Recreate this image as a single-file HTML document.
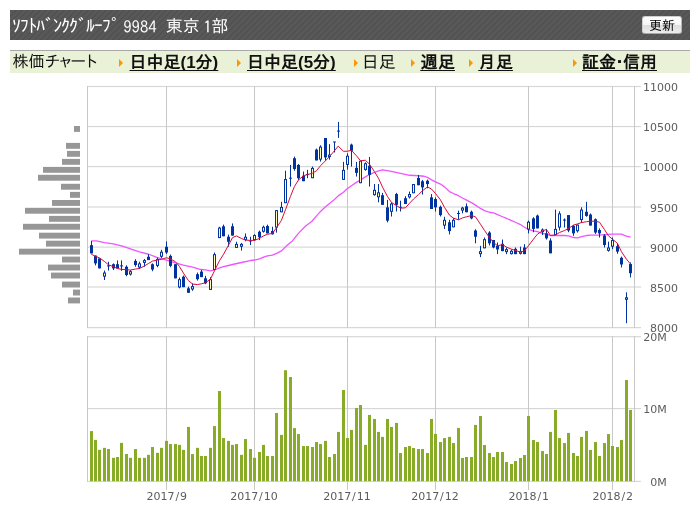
<!DOCTYPE html>
<html lang="ja">
<head>
<meta charset="utf-8">
<title>ｿﾌﾄﾊﾞﾝｸｸﾞﾙｰﾌﾟ 9984 株価チャート</title>
<style>
html,body{margin:0;padding:0;background:#fff;}
body{width:698px;height:518px;position:relative;overflow:hidden;font-family:"Liberation Sans","IPAGothic","Noto Sans CJK JP",sans-serif;}
.hd{position:absolute;left:10px;top:10px;width:680px;height:30px;background-color:#585858;
 background-image:repeating-linear-gradient(135deg,rgba(0,0,0,0.08) 0,rgba(0,0,0,0.08) 1px,rgba(0,0,0,0) 1.2px,rgba(0,0,0,0) 4.24px);}
.hd .t{position:absolute;left:0;top:7px;height:18px;line-height:18px;font-size:16px;color:#fff;white-space:pre;font-family:"IPAGothic","Noto Sans CJK JP",sans-serif;}
.hd .t span{position:absolute;top:0;height:18px;line-height:18px;white-space:pre;}
.btn{position:absolute;left:632px;top:6px;width:40px;height:18px;box-sizing:border-box;border:1px solid #cfcfcf;border-bottom-color:#a8a8a8;border-right-color:#b8b8b8;border-radius:3px;
 background:linear-gradient(#ffffff 0%,#f6f6f6 48%,#dedede 52%,#ececec 100%);font-size:13px;line-height:17.6px;text-align:center;color:#000;
 font-family:"Liberation Sans","IPAGothic","Noto Sans CJK JP",sans-serif;}
.nav{position:absolute;left:10px;top:50px;width:680px;height:22px;border-top:1px solid #a8a8a8;background:#e9f1d6;font-size:16px;color:#222;}
.nav span,.nav a{position:absolute;top:2px;height:18px;line-height:18px;white-space:nowrap;color:#111;}
.nav a{font-weight:bold;font-size:17px;text-decoration:underline;text-decoration-thickness:1px;text-underline-offset:1.5px;text-decoration-skip-ink:none;top:3px;}
.nav i{position:absolute;top:7.5px;width:0;height:0;border-left:4.5px solid #ff9500;border-top:4px solid transparent;border-bottom:4px solid transparent;}
.nav u.s{letter-spacing:.4px;text-decoration:inherit;}
.nav span u.s{text-decoration:none;letter-spacing:2px;}
.nav b.kn{font-weight:normal;letter-spacing:-3.1px;}
.nav b.dot{font-weight:bold;margin:0 -5px;}
.hd .t .k{left:2px;top:-1px;font-size:18px;letter-spacing:-1px;}
.hd .t .n{font-size:16.6px;top:1px;}
.hd .t .j{font-size:17px;}
.chart{position:absolute;left:0;top:0;}
</style>
</head>
<body>
<div class="hd"><div class="t"><span class="k">ｿﾌﾄﾊﾞﾝｸｸﾞﾙｰﾌﾟ</span><span class="n" style="left:105px"> 9984 </span><span class="j" style="left:155.7px">東京</span><span class="n" style="left:185.2px"> 1</span><span class="j" style="left:201.4px">部</span></div><div class="btn">更新</div></div>
<div class="nav">
<span style="left:2.5px">株価<b class="kn">チャート</b></span>
<i style="left:109px"></i><a style="left:119.5px">日中足(1分)</a>
<i style="left:227px"></i><a style="left:237px">日中足(5分)</a>
<i style="left:344px"></i><span style="left:351.7px;font-size:17px;top:3px">日足</span>
<i style="left:401px"></i><a style="left:410.5px"><u class="s">週</u>足</a>
<i style="left:459px"></i><a style="left:468.5px"><u class="s">月</u>足</a>
<i style="left:563px"></i><a style="left:572px">証金<b class="dot">・</b>信用</a>
</div>
<svg class="chart" width="698" height="518" viewBox="0 0 698 518">
<g fill="#d6d6d6">
<rect x="87" y="85.92" width="554" height="1.15"/>
<rect x="87" y="125.97" width="554" height="1.15"/>
<rect x="87" y="166.03" width="554" height="1.15"/>
<rect x="87" y="206.43" width="554" height="1.15"/>
<rect x="87" y="246.53" width="554" height="1.15"/>
<rect x="87" y="286.43" width="554" height="1.15"/>
<rect x="87" y="327.07" width="554" height="1.15"/>
<rect x="87" y="336.12" width="554" height="1.15"/>
<rect x="87" y="408.03" width="554" height="1.15"/>
<rect x="87" y="480.82" width="554" height="1.15"/>
</g>
<g fill="#c8c8c8">
<rect x="87" y="86" width="1" height="242"/>
<rect x="634" y="86" width="1" height="242"/>
<rect x="166" y="86" width="1" height="242"/>
<rect x="254" y="86" width="1" height="242"/>
<rect x="347" y="86" width="1" height="242"/>
<rect x="435" y="86" width="1" height="242"/>
<rect x="528" y="86" width="1" height="242"/>
<rect x="612" y="86" width="1" height="242"/>
<rect x="87" y="336.2" width="1" height="145.8"/>
<rect x="634" y="336.2" width="1" height="145.8"/>
<rect x="166" y="336.2" width="1" height="153.8"/>
<rect x="254" y="336.2" width="1" height="153.8"/>
<rect x="347" y="336.2" width="1" height="153.8"/>
<rect x="435" y="336.2" width="1" height="153.8"/>
<rect x="528" y="336.2" width="1" height="153.8"/>
<rect x="612" y="336.2" width="1" height="153.8"/>
</g>
<g fill="#979797">
<rect x="74" y="126" width="6" height="5.9"/>
<rect x="66" y="142.9" width="14" height="5.9"/>
<rect x="67" y="150.9" width="13" height="5.9"/>
<rect x="62" y="158.9" width="18" height="5.9"/>
<rect x="43" y="166.9" width="37" height="5.9"/>
<rect x="38" y="174.8" width="42" height="5.9"/>
<rect x="61" y="183.8" width="19" height="5.9"/>
<rect x="70" y="191.9" width="10" height="5.9"/>
<rect x="52" y="200" width="28" height="5.9"/>
<rect x="25" y="207.8" width="55" height="5.9"/>
<rect x="49" y="215.9" width="31" height="5.9"/>
<rect x="23" y="223.8" width="57" height="5.9"/>
<rect x="39" y="232.7" width="41" height="5.9"/>
<rect x="46" y="240.7" width="34" height="5.9"/>
<rect x="19" y="248.7" width="61" height="5.9"/>
<rect x="62" y="256.6" width="18" height="5.9"/>
<rect x="48" y="264.6" width="32" height="5.9"/>
<rect x="51" y="272.6" width="29" height="5.9"/>
<rect x="62" y="281.6" width="18" height="5.9"/>
<rect x="73" y="289.6" width="7" height="5.9"/>
<rect x="68" y="297.5" width="12" height="5.9"/>
</g>
<g fill="#88ab28">
<rect x="90" y="431.08" width="3" height="50.12"/>
<rect x="94" y="439.89" width="3" height="41.31"/>
<rect x="98" y="449.86" width="3" height="31.34"/>
<rect x="103" y="447.86" width="3" height="33.34"/>
<rect x="107" y="449.03" width="3" height="32.17"/>
<rect x="112" y="457.83" width="3" height="23.37"/>
<rect x="116" y="457" width="3" height="24.2"/>
<rect x="120" y="442.88" width="3" height="38.32"/>
<rect x="125" y="454.01" width="3" height="27.19"/>
<rect x="129" y="457.83" width="3" height="23.37"/>
<rect x="134" y="449.03" width="3" height="32.17"/>
<rect x="138" y="457.83" width="3" height="23.37"/>
<rect x="143" y="457.83" width="3" height="23.37"/>
<rect x="147" y="454.84" width="3" height="26.36"/>
<rect x="151" y="447.03" width="3" height="34.17"/>
<rect x="156" y="452.85" width="3" height="28.35"/>
<rect x="160" y="447.86" width="3" height="33.34"/>
<rect x="165" y="440.88" width="3" height="40.32"/>
<rect x="169" y="444.04" width="3" height="37.16"/>
<rect x="174" y="444.04" width="3" height="37.16"/>
<rect x="178" y="444.87" width="3" height="36.33"/>
<rect x="182" y="449.86" width="3" height="31.34"/>
<rect x="187" y="426.92" width="3" height="54.28"/>
<rect x="191" y="454.01" width="3" height="27.19"/>
<rect x="196" y="447.86" width="3" height="33.34"/>
<rect x="200" y="456.01" width="3" height="25.19"/>
<rect x="204" y="456.01" width="3" height="25.19"/>
<rect x="209" y="447.86" width="3" height="33.34"/>
<rect x="213" y="426.09" width="3" height="55.11"/>
<rect x="218" y="391" width="3" height="90.2"/>
<rect x="222" y="438.06" width="3" height="43.14"/>
<rect x="227" y="440.88" width="3" height="40.32"/>
<rect x="231" y="444.87" width="3" height="36.33"/>
<rect x="235" y="444.04" width="3" height="37.16"/>
<rect x="240" y="454.84" width="3" height="26.36"/>
<rect x="244" y="439.05" width="3" height="42.15"/>
<rect x="249" y="449.03" width="3" height="32.17"/>
<rect x="253" y="457.83" width="3" height="23.37"/>
<rect x="258" y="452.02" width="3" height="29.18"/>
<rect x="262" y="444.87" width="3" height="36.33"/>
<rect x="266" y="456.01" width="3" height="25.19"/>
<rect x="271" y="456.01" width="3" height="25.19"/>
<rect x="275" y="412.96" width="3" height="68.24"/>
<rect x="280" y="434.9" width="3" height="46.3"/>
<rect x="284" y="370.22" width="3" height="110.98"/>
<rect x="289" y="377.04" width="3" height="104.16"/>
<rect x="293" y="428.09" width="3" height="53.11"/>
<rect x="297" y="434.07" width="3" height="47.13"/>
<rect x="302" y="446.03" width="3" height="35.17"/>
<rect x="306" y="446.03" width="3" height="35.17"/>
<rect x="311" y="447.03" width="3" height="34.17"/>
<rect x="315" y="442.05" width="3" height="39.15"/>
<rect x="319" y="444.04" width="3" height="37.16"/>
<rect x="324" y="440.88" width="3" height="40.32"/>
<rect x="328" y="457" width="3" height="24.2"/>
<rect x="333" y="454.01" width="3" height="27.19"/>
<rect x="337" y="431.91" width="3" height="49.29"/>
<rect x="342" y="390" width="3" height="91.2"/>
<rect x="346" y="438.06" width="3" height="43.14"/>
<rect x="350" y="429.91" width="3" height="51.29"/>
<rect x="355" y="407.98" width="3" height="73.22"/>
<rect x="359" y="404.99" width="3" height="76.21"/>
<rect x="364" y="444.87" width="3" height="36.33"/>
<rect x="368" y="414.96" width="3" height="66.24"/>
<rect x="373" y="418.95" width="3" height="62.25"/>
<rect x="377" y="431.91" width="3" height="49.29"/>
<rect x="381" y="436.89" width="3" height="44.31"/>
<rect x="386" y="418.95" width="3" height="62.25"/>
<rect x="390" y="426.92" width="3" height="54.28"/>
<rect x="395" y="422.93" width="3" height="58.27"/>
<rect x="399" y="453.01" width="3" height="28.19"/>
<rect x="404" y="447.03" width="3" height="34.17"/>
<rect x="408" y="446.03" width="3" height="35.17"/>
<rect x="412" y="448.03" width="3" height="33.17"/>
<rect x="417" y="449.03" width="3" height="32.17"/>
<rect x="421" y="449.03" width="3" height="32.17"/>
<rect x="426" y="453.01" width="3" height="28.19"/>
<rect x="430" y="418.95" width="3" height="62.25"/>
<rect x="434" y="433.9" width="3" height="47.3"/>
<rect x="439" y="442.05" width="3" height="39.15"/>
<rect x="443" y="438.06" width="3" height="43.14"/>
<rect x="448" y="436.89" width="3" height="44.31"/>
<rect x="452" y="443.04" width="3" height="38.16"/>
<rect x="457" y="427.92" width="3" height="53.28"/>
<rect x="461" y="458" width="3" height="23.2"/>
<rect x="465" y="457" width="3" height="24.2"/>
<rect x="470" y="457" width="3" height="24.2"/>
<rect x="474" y="424.93" width="3" height="56.27"/>
<rect x="479" y="415.95" width="3" height="65.25"/>
<rect x="483" y="445.04" width="3" height="36.16"/>
<rect x="488" y="453.01" width="3" height="28.19"/>
<rect x="492" y="457" width="3" height="24.2"/>
<rect x="496" y="452.02" width="3" height="29.18"/>
<rect x="501" y="452.02" width="3" height="29.18"/>
<rect x="505" y="461.99" width="3" height="19.21"/>
<rect x="510" y="463.98" width="3" height="17.22"/>
<rect x="514" y="460.99" width="3" height="20.21"/>
<rect x="519" y="458" width="3" height="23.2"/>
<rect x="523" y="455.01" width="3" height="26.19"/>
<rect x="527" y="415.95" width="3" height="65.25"/>
<rect x="532" y="440.05" width="3" height="41.15"/>
<rect x="536" y="442.05" width="3" height="39.15"/>
<rect x="541" y="451.02" width="3" height="30.18"/>
<rect x="545" y="454.01" width="3" height="27.19"/>
<rect x="549" y="431.91" width="3" height="49.29"/>
<rect x="554" y="409.97" width="3" height="71.23"/>
<rect x="558" y="438.06" width="3" height="43.14"/>
<rect x="563" y="443.04" width="3" height="38.16"/>
<rect x="567" y="432.91" width="3" height="48.29"/>
<rect x="572" y="453.01" width="3" height="28.19"/>
<rect x="576" y="456.01" width="3" height="25.19"/>
<rect x="580" y="436.89" width="3" height="44.31"/>
<rect x="585" y="430.91" width="3" height="50.29"/>
<rect x="589" y="450.02" width="3" height="31.18"/>
<rect x="594" y="442.05" width="3" height="39.15"/>
<rect x="598" y="456.01" width="3" height="25.19"/>
<rect x="603" y="443.04" width="3" height="38.16"/>
<rect x="607" y="434.07" width="3" height="47.13"/>
<rect x="611" y="446.03" width="3" height="35.17"/>
<rect x="616" y="447.03" width="3" height="34.17"/>
<rect x="620" y="440.05" width="3" height="41.15"/>
<rect x="625" y="380.03" width="3" height="101.17"/>
<rect x="629" y="409.97" width="3" height="71.23"/>
</g>
<path d="M91.31 240.96 L96.46 240.96 L104.44 242.62 L113.42 243.95 L121.56 245.94 L130.53 248.93 L139.51 251.76 L148.65 254.25 L157.46 257.58 L166.43 260.07 L175.4 262.89 L183.38 265.05 L192.52 267.21 L199.99 269.32 L201.48 269.48 L205.47 269.98 L210.46 270.81 L214.45 269.98 L219.43 267.82 L223.59 266.66 L228.57 265.5 L232.56 264.5 L241.37 262.5 L250.34 260.51 L254.5 260.01 L259.48 258.85 L263.47 257.19 L267.46 255.86 L272.45 255.03 L276.6 253.36 L281.42 250.87 L287.4 245.05 L292.39 240.9 L299.04 232.59 L305.68 225.94 L312 221.29 L316.53 215.92 L320.52 211.43 L325.51 206.78 L329.5 203.46 L334.48 199.47 L338.47 195.64 L343.46 192.32 L347.44 188.5 L351.43 185.67 L356.42 182.35 L360.57 179.86 L365.39 176.87 L369.38 174.54 L374.37 172.38 L378.49 170.94 L382.65 169.94 L391.46 171.27 L400.6 173.27 L409.57 175.26 L418.54 175.76 L424.19 176.26 L427.52 177.42 L431.51 179.91 L435.5 181.91 L440.48 184.07 L444.47 186.89 L449.46 191.55 L453.44 193.54 L458.43 195.7 L462.49 197.97 L466.65 200.13 L471.47 202.62 L475.46 205.11 L480.44 208.44 L484.6 210.6 L489.42 212.26 L493.57 212.92 L497.56 214.58 L502.54 216.74 L506.53 218.41 L511.52 220.57 L515.51 222.23 L520.49 224.56 L524.48 227.21 L528.64 229.54 L533.46 230.87 L537.44 231.7 L542.43 233.36 L546.42 234.19 L550.47 235.52 L555.46 235.52 L564.43 235.52 L568.58 235.86 L573.57 237.52 L577.56 237.85 L581.55 236.69 L586.53 235.52 L590.52 235.19 L595.51 235.19 L599.5 235.19 L604.48 234.53 L612.46 234.19 L617.44 234.19 L621.43 234.19 L625.59 235.86 L630.57 237.19" fill="none" stroke="#ee55ff" stroke-width="1.3" stroke-linejoin="round"/>
<g fill="#0033a0">
<rect x="91" y="240.96" width="1" height="12.46"/>
<rect x="90" y="245.11" width="3" height="8.31"/>
<rect x="95" y="255.58" width="1" height="9.81"/>
<rect x="94" y="255.58" width="3" height="7.81"/>
<rect x="99" y="258.41" width="1" height="9.97"/>
<rect x="98" y="258.41" width="3" height="9.97"/>
<rect x="104" y="270.54" width="1" height="9.47"/>
<rect x="103" y="272.53" width="3" height="4.15"/>
<rect x="104" y="273.53" width="1" height="2.15" fill="#ffffc0"/>
<rect x="108" y="261.73" width="1" height="8.81"/>
<rect x="107" y="265.39" width="3" height="1"/>
<rect x="113" y="263.39" width="1" height="6.65"/>
<rect x="112" y="264.22" width="3" height="4.15"/>
<rect x="117" y="260.4" width="1" height="7.98"/>
<rect x="116" y="264.22" width="3" height="4.15"/>
<rect x="121" y="260.4" width="1" height="10.47"/>
<rect x="120" y="265.39" width="3" height="1"/>
<rect x="126" y="265.39" width="1" height="10.8"/>
<rect x="125" y="266.72" width="3" height="8.31"/>
<rect x="130" y="270.04" width="1" height="5.48"/>
<rect x="129" y="271.2" width="3" height="3.32"/>
<rect x="130" y="272.2" width="1" height="1.32" fill="#ffffc0"/>
<rect x="135" y="259.24" width="1" height="7.48"/>
<rect x="134" y="260.9" width="3" height="4.15"/>
<rect x="139" y="261.73" width="1" height="7.15"/>
<rect x="138" y="263.39" width="3" height="4.15"/>
<rect x="139" y="264.39" width="1" height="2.15" fill="#ffffc0"/>
<rect x="144" y="258.91" width="1" height="7.81"/>
<rect x="143" y="260.07" width="3" height="2.83"/>
<rect x="144" y="261.07" width="1" height="0.83" fill="#ffffc0"/>
<rect x="148" y="254.25" width="1" height="5.82"/>
<rect x="147" y="256.74" width="3" height="3.32"/>
<rect x="152" y="263.39" width="1" height="7.81"/>
<rect x="151" y="264.22" width="3" height="5.32"/>
<rect x="157" y="257.58" width="1" height="9.64"/>
<rect x="156" y="258.91" width="3" height="6.98"/>
<rect x="157" y="259.91" width="1" height="4.98" fill="#ffffc0"/>
<rect x="161" y="249.77" width="1" height="8.14"/>
<rect x="160" y="251.76" width="3" height="4.99"/>
<rect x="161" y="252.76" width="1" height="2.99" fill="#ffffc0"/>
<rect x="166" y="241.46" width="1" height="12.46"/>
<rect x="165" y="246.77" width="3" height="5.82"/>
<rect x="170" y="254.58" width="1" height="12.63"/>
<rect x="169" y="255.91" width="3" height="9.97"/>
<rect x="175" y="264.22" width="1" height="14.13"/>
<rect x="174" y="264.22" width="3" height="14.13"/>
<rect x="179" y="277.52" width="1" height="10.8"/>
<rect x="178" y="279.18" width="3" height="8.31"/>
<rect x="179" y="280.18" width="1" height="6.31" fill="#ffffc0"/>
<rect x="183" y="275.52" width="1" height="11.63"/>
<rect x="182" y="276.69" width="3" height="10.47"/>
<rect x="188" y="286.66" width="1" height="6.15"/>
<rect x="187" y="288.32" width="3" height="4.49"/>
<rect x="192" y="283.34" width="1" height="7.48"/>
<rect x="191" y="286.16" width="3" height="3.32"/>
<rect x="192" y="287.16" width="1" height="1.32" fill="#ffffc0"/>
<rect x="197" y="272.53" width="1" height="7.98"/>
<rect x="196" y="274.19" width="3" height="4.99"/>
<rect x="201" y="269.98" width="1" height="7.15"/>
<rect x="200" y="271.64" width="3" height="5.48"/>
<rect x="205" y="275.8" width="1" height="8.31"/>
<rect x="204" y="278.29" width="3" height="4.99"/>
<rect x="210" y="277.13" width="1" height="12.8"/>
<rect x="209" y="279.12" width="3" height="10.8"/>
<rect x="210" y="280.12" width="1" height="8.8" fill="#ffffc0"/>
<rect x="214" y="252.53" width="1" height="17.45"/>
<rect x="213" y="254.19" width="3" height="15.79"/>
<rect x="214" y="255.19" width="1" height="13.79" fill="#ffffc0"/>
<rect x="219" y="226.77" width="1" height="11.3"/>
<rect x="218" y="227.6" width="3" height="10.47"/>
<rect x="219" y="228.6" width="1" height="8.47" fill="#ffffc0"/>
<rect x="223" y="224.61" width="1" height="11.63"/>
<rect x="222" y="226.28" width="3" height="9.97"/>
<rect x="228" y="234.58" width="1" height="12.13"/>
<rect x="227" y="236.74" width="3" height="4.99"/>
<rect x="232" y="223.45" width="1" height="12.13"/>
<rect x="231" y="226.28" width="3" height="9.31"/>
<rect x="236" y="241.73" width="1" height="6.15"/>
<rect x="235" y="243.89" width="3" height="3.99"/>
<rect x="236" y="244.89" width="1" height="1.99" fill="#ffffc0"/>
<rect x="241" y="242.89" width="1" height="7.64"/>
<rect x="240" y="243.89" width="3" height="2.83"/>
<rect x="241" y="244.89" width="1" height="0.83" fill="#ffffc0"/>
<rect x="245" y="233.42" width="1" height="7.81"/>
<rect x="244" y="236.74" width="3" height="3.32"/>
<rect x="245" y="237.74" width="1" height="1.32" fill="#ffffc0"/>
<rect x="250" y="236.74" width="1" height="8.31"/>
<rect x="249" y="240.4" width="3" height="1"/>
<rect x="254" y="234.25" width="1" height="6.65"/>
<rect x="253" y="235.08" width="3" height="4.99"/>
<rect x="254" y="236.08" width="1" height="2.99" fill="#ffffc0"/>
<rect x="259" y="230.6" width="1" height="9.47"/>
<rect x="258" y="231.76" width="3" height="5.48"/>
<rect x="263" y="225.61" width="1" height="6.98"/>
<rect x="262" y="226.77" width="3" height="4.99"/>
<rect x="263" y="227.77" width="1" height="2.99" fill="#ffffc0"/>
<rect x="267" y="224.61" width="1" height="8.81"/>
<rect x="266" y="225.94" width="3" height="7.48"/>
<rect x="272" y="226.77" width="1" height="7.81"/>
<rect x="271" y="230.93" width="3" height="3.32"/>
<rect x="276" y="210.15" width="1" height="22.44"/>
<rect x="275" y="210.15" width="3" height="17.45"/>
<rect x="276" y="211.15" width="1" height="15.45" fill="#ffffc0"/>
<rect x="281" y="201.79" width="1" height="10.47"/>
<rect x="280" y="206.95" width="3" height="5.32"/>
<rect x="281" y="207.95" width="1" height="3.32" fill="#ffffc0"/>
<rect x="285" y="170.72" width="1" height="32.41"/>
<rect x="284" y="179.03" width="3" height="24.1"/>
<rect x="285" y="180.03" width="1" height="22.1" fill="#ffffc0"/>
<rect x="290" y="164.9" width="1" height="21.6"/>
<rect x="289" y="177.69" width="3" height="1"/>
<rect x="294" y="156.59" width="1" height="14.13"/>
<rect x="293" y="158.25" width="3" height="10.8"/>
<rect x="298" y="164.07" width="1" height="15.79"/>
<rect x="297" y="164.9" width="3" height="13.3"/>
<rect x="303" y="171.55" width="1" height="9.64"/>
<rect x="302" y="175.7" width="3" height="5.48"/>
<rect x="307" y="169.89" width="1" height="8.31"/>
<rect x="306" y="174.04" width="3" height="1"/>
<rect x="312" y="166.56" width="1" height="11.63"/>
<rect x="311" y="167.89" width="3" height="10.3"/>
<rect x="312" y="168.89" width="1" height="8.3" fill="#ffffc0"/>
<rect x="316" y="148.61" width="1" height="11.8"/>
<rect x="315" y="149.61" width="3" height="10.8"/>
<rect x="320" y="145.29" width="1" height="16.29"/>
<rect x="319" y="146.62" width="3" height="12.96"/>
<rect x="320" y="147.62" width="1" height="10.96" fill="#ffffc0"/>
<rect x="325" y="137.98" width="1" height="22.77"/>
<rect x="324" y="137.98" width="3" height="19.44"/>
<rect x="329" y="144.13" width="1" height="15.46"/>
<rect x="328" y="154.6" width="3" height="2.4"/>
<rect x="329" y="155.6" width="1" height="0.4" fill="#ffffc0"/>
<rect x="334" y="141.97" width="1" height="10.47"/>
<rect x="333" y="141.47" width="3" height="1"/>
<rect x="338" y="121.94" width="1" height="15.95"/>
<rect x="337" y="130.58" width="3" height="1"/>
<rect x="343" y="161.91" width="1" height="17.95"/>
<rect x="342" y="169.89" width="3" height="9.97"/>
<rect x="343" y="170.89" width="1" height="7.97" fill="#ffffc0"/>
<rect x="347" y="153.27" width="1" height="16.29"/>
<rect x="346" y="155.76" width="3" height="9.14"/>
<rect x="347" y="156.76" width="1" height="7.14" fill="#ffffc0"/>
<rect x="351" y="143.63" width="1" height="22.93"/>
<rect x="350" y="144.62" width="3" height="6.15"/>
<rect x="356" y="161.91" width="1" height="14.62"/>
<rect x="355" y="167.89" width="3" height="4.99"/>
<rect x="360" y="160.74" width="1" height="22.44"/>
<rect x="359" y="160.74" width="3" height="22.44"/>
<rect x="360" y="161.74" width="1" height="20.44" fill="#ffffc0"/>
<rect x="365" y="162.41" width="1" height="8.31"/>
<rect x="364" y="163.24" width="3" height="6.65"/>
<rect x="365" y="164.24" width="1" height="4.65" fill="#ffffc0"/>
<rect x="369" y="156.92" width="1" height="29.58"/>
<rect x="368" y="165.73" width="3" height="9.14"/>
<rect x="374" y="184.01" width="1" height="11.63"/>
<rect x="373" y="189.83" width="3" height="5.32"/>
<rect x="374" y="190.83" width="1" height="3.32" fill="#ffffc0"/>
<rect x="378" y="184.01" width="1" height="18.28"/>
<rect x="377" y="192.32" width="3" height="4.99"/>
<rect x="378" y="193.32" width="1" height="2.99" fill="#ffffc0"/>
<rect x="382" y="192.88" width="1" height="11.97"/>
<rect x="381" y="195.2" width="3" height="9.64"/>
<rect x="387" y="199.86" width="1" height="22.44"/>
<rect x="386" y="207.34" width="3" height="13.3"/>
<rect x="391" y="202.35" width="1" height="14.13"/>
<rect x="390" y="203.51" width="3" height="8.31"/>
<rect x="391" y="204.51" width="1" height="6.31" fill="#ffffc0"/>
<rect x="396" y="192.88" width="1" height="18.61"/>
<rect x="395" y="194.04" width="3" height="10.8"/>
<rect x="400" y="200.69" width="1" height="10.8"/>
<rect x="399" y="206.84" width="3" height="1"/>
<rect x="405" y="196.2" width="1" height="7.81"/>
<rect x="404" y="198.19" width="3" height="5.82"/>
<rect x="409" y="191.55" width="1" height="6.98"/>
<rect x="408" y="194.04" width="3" height="3.32"/>
<rect x="409" y="195.04" width="1" height="1.32" fill="#ffffc0"/>
<rect x="413" y="184.07" width="1" height="9.14"/>
<rect x="412" y="184.07" width="3" height="9.14"/>
<rect x="413" y="185.07" width="1" height="7.14" fill="#ffffc0"/>
<rect x="418" y="174.93" width="1" height="10.3"/>
<rect x="417" y="177.92" width="3" height="7.31"/>
<rect x="422" y="179.91" width="1" height="14.62"/>
<rect x="421" y="181.24" width="3" height="6.15"/>
<rect x="427" y="179.58" width="1" height="8.64"/>
<rect x="426" y="180.74" width="3" height="3.32"/>
<rect x="431" y="194.04" width="1" height="14.96"/>
<rect x="430" y="197.36" width="3" height="11.63"/>
<rect x="435" y="197.36" width="1" height="14.13"/>
<rect x="434" y="199.03" width="3" height="8.31"/>
<rect x="440" y="205.67" width="1" height="10.8"/>
<rect x="439" y="206.84" width="3" height="8.31"/>
<rect x="444" y="216.81" width="1" height="12.13"/>
<rect x="443" y="219.8" width="3" height="5.82"/>
<rect x="444" y="220.8" width="1" height="3.82" fill="#ffffc0"/>
<rect x="449" y="219.8" width="1" height="14.62"/>
<rect x="448" y="222.29" width="3" height="8.81"/>
<rect x="453" y="218.14" width="1" height="9.14"/>
<rect x="452" y="219.8" width="3" height="7.48"/>
<rect x="453" y="220.8" width="1" height="5.48" fill="#ffffc0"/>
<rect x="458" y="210.66" width="1" height="9.14"/>
<rect x="457" y="212.98" width="3" height="1"/>
<rect x="462" y="206.77" width="1" height="6.65"/>
<rect x="461" y="207.6" width="3" height="2.99"/>
<rect x="462" y="208.6" width="1" height="0.99" fill="#ffffc0"/>
<rect x="466" y="203.45" width="1" height="8.81"/>
<rect x="465" y="206.28" width="3" height="5.98"/>
<rect x="471" y="210.6" width="1" height="8.64"/>
<rect x="470" y="211.76" width="3" height="6.65"/>
<rect x="475" y="229.21" width="1" height="14.13"/>
<rect x="474" y="230.54" width="3" height="6.15"/>
<rect x="480" y="245.83" width="1" height="11.3"/>
<rect x="479" y="251.15" width="3" height="2.99"/>
<rect x="480" y="252.15" width="1" height="0.99" fill="#ffffc0"/>
<rect x="484" y="237.52" width="1" height="10.8"/>
<rect x="483" y="239.18" width="3" height="9.14"/>
<rect x="484" y="240.18" width="1" height="7.14" fill="#ffffc0"/>
<rect x="489" y="231.2" width="1" height="14.29"/>
<rect x="488" y="232.53" width="3" height="10.8"/>
<rect x="493" y="240.01" width="1" height="8.31"/>
<rect x="492" y="240.01" width="3" height="7.48"/>
<rect x="497" y="242.5" width="1" height="11.63"/>
<rect x="496" y="245.83" width="3" height="3.66"/>
<rect x="502" y="239.51" width="1" height="11.63"/>
<rect x="501" y="243.83" width="3" height="7.31"/>
<rect x="506" y="247.49" width="1" height="6.65"/>
<rect x="505" y="249.15" width="3" height="2.99"/>
<rect x="506" y="250.15" width="1" height="0.99" fill="#ffffc0"/>
<rect x="511" y="249.48" width="1" height="4.99"/>
<rect x="510" y="250.81" width="3" height="3.32"/>
<rect x="511" y="251.81" width="1" height="1.32" fill="#ffffc0"/>
<rect x="515" y="247.49" width="1" height="6.65"/>
<rect x="514" y="248.82" width="3" height="5.32"/>
<rect x="520" y="246.66" width="1" height="7.81"/>
<rect x="519" y="251.15" width="3" height="2.66"/>
<rect x="520" y="252.15" width="1" height="0.66" fill="#ffffc0"/>
<rect x="524" y="244.17" width="1" height="9.97"/>
<rect x="523" y="247.49" width="3" height="6.65"/>
<rect x="528" y="220.57" width="1" height="12.8"/>
<rect x="527" y="221.73" width="3" height="7.81"/>
<rect x="528" y="222.73" width="1" height="5.81" fill="#ffffc0"/>
<rect x="533" y="217.24" width="1" height="14.96"/>
<rect x="532" y="218.41" width="3" height="10.47"/>
<rect x="537" y="214.58" width="1" height="13.79"/>
<rect x="536" y="215.58" width="3" height="12.8"/>
<rect x="542" y="228.38" width="1" height="6.65"/>
<rect x="541" y="229.54" width="3" height="2.66"/>
<rect x="542" y="230.54" width="1" height="0.66" fill="#ffffc0"/>
<rect x="546" y="228.88" width="1" height="10.64"/>
<rect x="545" y="233.36" width="3" height="4.99"/>
<rect x="550" y="238.35" width="1" height="14.96"/>
<rect x="549" y="240.51" width="3" height="12.8"/>
<rect x="555" y="209.6" width="1" height="25.43"/>
<rect x="554" y="228.88" width="3" height="6.15"/>
<rect x="555" y="229.88" width="1" height="4.15" fill="#ffffc0"/>
<rect x="559" y="211.26" width="1" height="19.28"/>
<rect x="558" y="213.42" width="3" height="14.13"/>
<rect x="559" y="214.42" width="1" height="12.13" fill="#ffffc0"/>
<rect x="564" y="218.41" width="1" height="9.14"/>
<rect x="563" y="219.57" width="3" height="1"/>
<rect x="568" y="215.08" width="1" height="17.12"/>
<rect x="567" y="215.08" width="3" height="15.46"/>
<rect x="573" y="225.05" width="1" height="10.8"/>
<rect x="572" y="225.89" width="3" height="7.48"/>
<rect x="577" y="224.56" width="1" height="7.98"/>
<rect x="576" y="224.56" width="3" height="6.65"/>
<rect x="577" y="225.56" width="1" height="4.65" fill="#ffffc0"/>
<rect x="581" y="207.27" width="1" height="15.62"/>
<rect x="580" y="209.6" width="3" height="10.47"/>
<rect x="581" y="210.6" width="1" height="8.47" fill="#ffffc0"/>
<rect x="586" y="201.79" width="1" height="14.96"/>
<rect x="585" y="211.76" width="3" height="4.15"/>
<rect x="590" y="213.42" width="1" height="12.13"/>
<rect x="589" y="214.58" width="3" height="10.97"/>
<rect x="595" y="218.41" width="1" height="15.46"/>
<rect x="594" y="219.24" width="3" height="13.3"/>
<rect x="599" y="228.38" width="1" height="9.14"/>
<rect x="598" y="230.04" width="3" height="3.32"/>
<rect x="604" y="234.19" width="1" height="13.3"/>
<rect x="603" y="235.52" width="3" height="9.47"/>
<rect x="608" y="241.67" width="1" height="9.97"/>
<rect x="607" y="247.49" width="3" height="3.32"/>
<rect x="608" y="248.49" width="1" height="1.32" fill="#ffffc0"/>
<rect x="612" y="237.52" width="1" height="11.63"/>
<rect x="611" y="240.01" width="3" height="6.65"/>
<rect x="612" y="241.01" width="1" height="4.65" fill="#ffffc0"/>
<rect x="617" y="243.34" width="1" height="10.47"/>
<rect x="616" y="246.16" width="3" height="5.48"/>
<rect x="621" y="256.63" width="1" height="10.8"/>
<rect x="620" y="257.79" width="3" height="6.65"/>
<rect x="626" y="292.32" width="1" height="30.91"/>
<rect x="625" y="297.31" width="3" height="2.49"/>
<rect x="626" y="298.31" width="1" height="0.49" fill="#ffffc0"/>
<rect x="630" y="262.41" width="1" height="14.96"/>
<rect x="629" y="264.07" width="3" height="9.14"/>
</g>
<path d="M91.31 254.25 L95.47 256.25 L99.46 257.91 L104.44 261.4 L108.43 264.72 L113.42 266.72 L117.57 268.54 L121.56 269.38 L126.54 269.71 L130.53 270.04 L135.52 269.04 L139.51 268.54 L144.49 265.89 L148.65 263.39 L152.64 261.07 L157.46 260.07 L161.44 259.24 L166.43 257.74 L170.42 258.91 L175.4 261.73 L179.39 266.38 L183.38 273.03 L188.37 280.51 L192.52 284 L197.33 284.61 L201.48 283.78 L205.47 282.78 L210.46 279.12 L214.45 270.81 L219.43 260.84 L223.59 254.19 L228.57 245.05 L232.56 237.58 L236.38 235.91 L241.37 238.41 L245.36 240.07 L250.34 240.4 L254.5 240.4 L259.48 238.41 L263.47 235.91 L267.46 234.25 L272.45 233.42 L276.6 227.6 L281.3 220.57 L285.46 209.77 L290.44 196.48 L294.43 186.5 L298.58 179.86 L303.57 175.7 L307.56 174.54 L312.54 173.21 L316.53 170.72 L320.52 165.73 L325.51 160.74 L329.5 156.59 L334.48 150.77 L338.14 146.12 L343.46 151.27 L347.44 151.27 L351.43 150.28 L356.42 155.76 L360.57 160.74 L365.39 160.25 L369.38 164.07 L374.37 171.55 L378.49 178.25 L382.65 187.39 L387.47 196.53 L391.46 202.35 L396.44 205.67 L400.6 208.17 L405.42 207.83 L409.57 203.18 L413.56 199.03 L418.54 194.54 L422.53 190.72 L427.52 186.89 L431.51 189.05 L435.5 193.54 L440.48 199.86 L444.47 207.34 L449.46 215.15 L453.44 218.14 L458.43 219.8 L462.49 217.91 L466.65 216.74 L471.47 215.58 L475.46 216.74 L480.44 224.22 L484.6 230.54 L489.42 237.52 L493.57 242.5 L497.56 245.83 L502.54 244.5 L506.53 247.16 L511.52 249.15 L515.51 250.48 L520.49 252.14 L524.48 250.81 L528.64 245.5 L533.46 239.18 L537.44 234.19 L542.43 230.87 L546.48 229.54 L550.47 235.52 L555.46 235.03 L559.44 232.53 L564.43 230.54 L568.58 228.38 L573.57 225.05 L577.56 223.89 L581.55 222.56 L586.53 221.73 L590.52 221.23 L595.51 221.23 L599.5 222.23 L604.48 229.54 L608.47 235.86 L612.46 239.18 L617.44 243.34 L621.43 251.64 L626.42 259.12 L630.57 264.11" fill="none" stroke="#dc0a3c" stroke-width="1" stroke-linejoin="round"/>
<g font-family="'DejaVu Sans', 'Liberation Sans', sans-serif" font-size="11" fill="#5c5c5c">
<text x="678" y="91" text-anchor="end">11000</text>
<text x="678" y="131.05" text-anchor="end">10500</text>
<text x="678" y="171.1" text-anchor="end">10000</text>
<text x="678" y="211.5" text-anchor="end">9500</text>
<text x="678" y="251.6" text-anchor="end">9000</text>
<text x="678" y="291.5" text-anchor="end">8500</text>
<text x="678" y="332.15" text-anchor="end">8000</text>
<text x="643.2" y="341.3">20M</text>
<text x="643.2" y="413.2">10M</text>
<text x="650.2" y="486">0M</text>
<text x="166.8" y="500" text-anchor="middle">2017<tspan dx="0.9">/</tspan><tspan dx="1">9</tspan></text>
<text x="254" y="500" text-anchor="middle">2017<tspan dx="0.9">/</tspan><tspan dx="1">10</tspan></text>
<text x="347" y="500" text-anchor="middle">2017<tspan dx="0.9">/</tspan><tspan dx="1">11</tspan></text>
<text x="435" y="500" text-anchor="middle">2017<tspan dx="0.9">/</tspan><tspan dx="1">12</tspan></text>
<text x="528.8" y="500" text-anchor="middle">2018<tspan dx="0.9">/</tspan><tspan dx="1">1</tspan></text>
<text x="612.8" y="500" text-anchor="middle">2018<tspan dx="0.9">/</tspan><tspan dx="1">2</tspan></text>
</g>
</svg>
</body>
</html>
